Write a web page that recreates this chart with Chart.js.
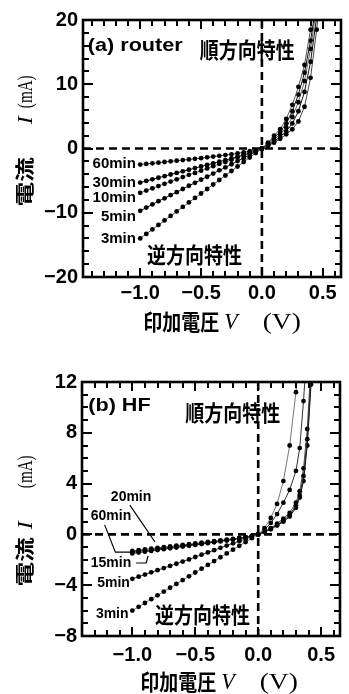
<!DOCTYPE html>
<html>
<head>
<meta charset="utf-8">
<script src="https://cdn.jsdelivr.net/npm/chart.js@4.4.0/dist/chart.umd.min.js"></script>
<style>
    html, body { margin: 0; padding: 0; background: #fff; }
    #wrap { position: relative; width: 349px; height: 694px; }
    #wrap canvas { position: absolute; left: 0; }
</style>
</head>
<body>
<div id="wrap">
    <canvas id="chart-a" width="349" height="345" style="top:0"></canvas>
    <canvas id="chart-b" width="349" height="349" style="top:345px"></canvas>
</div>
<script>
// ---- panel (a) router ----
const a_v_rev = [-1.00, -0.95, -0.90, -0.85, -0.80, -0.75, -0.70, -0.65, -0.60, -0.55, -0.50,
                 -0.45, -0.40, -0.35, -0.30, -0.25, -0.20, -0.15, -0.10, -0.05, 0.00];
const a_v_fwd = [0.05, 0.10, 0.15, 0.20, 0.25, 0.30, 0.35, 0.40, 0.45, 0.50];
const a_names = ['3min', '5min', '10min', '30min', '60min'];

const a_rev_3min  = [-14.0, -13.3, -12.6, -11.9, -11.2, -10.5, -9.8, -9.1, -8.4, -7.7, -7.0,
                     -6.3, -5.6, -4.9, -4.2, -3.5, -2.8, -2.1, -1.4, -0.7, 0.0];
const a_rev_5min  = [-9.7, -9.2, -8.7, -8.2, -7.75, -7.25, -6.8, -6.3, -5.8, -5.35, -4.85,
                     -4.4, -3.9, -3.4, -2.95, -2.45, -1.95, -1.5, -1.0, -0.5, 0.0];
const a_rev_10min = [-6.9, -6.55, -6.2, -5.85, -5.5, -5.15, -4.8, -4.45, -4.1, -3.8, -3.45,
                     -3.1, -2.75, -2.4, -2.1, -1.75, -1.4, -1.05, -0.7, -0.35, 0.0];
const a_rev_30min = [-5.3, -5.05, -4.8, -4.55, -4.3, -4.05, -3.8, -3.55, -3.3, -3.05, -2.8,
                     -2.55, -2.3, -2.05, -1.8, -1.55, -1.3, -1.0, -0.7, -0.35, 0.0];
const a_rev_60min = [-2.5, -2.4, -2.3, -2.2, -2.1, -2.0, -1.9, -1.8, -1.7, -1.6, -1.5,
                     -1.38, -1.26, -1.14, -1.02, -0.9, -0.76, -0.6, -0.42, -0.22, 0.0];

const a_fwd_3min  = [0.9, 2.0, 3.0, 4.6, 6.8, 9.6, 13.0, 18.5, 25.0, null];
const a_fwd_5min  = [0.8, 1.7, 2.6, 3.9, 5.8, 8.4, 11.8, 16.8, 23.0, null];
const a_fwd_10min = [0.6, 1.4, 2.2, 3.3, 4.9, 7.2, 10.5, 15.5, 22.0, null];
const a_fwd_30min = [0.5, 1.1, 1.8, 2.7, 3.9, 5.8, 8.8, 13.5, 20.5, null];
const a_fwd_60min = [0.4, 0.9, 1.5, 2.2, 3.0, 4.2, 6.5, 11.0, 18.5, 28.0];

const a_x_ticks = [-1.0, -0.5, 0.0, 0.5];
const a_y_ticks = [-20, -10, 0, 10, 20];

// ---- panel (b) HF ----
const b_v_rev = a_v_rev;
const b_v_fwd = [0.05, 0.10, 0.15, 0.20, 0.25, 0.30, 0.33, 0.36, 0.39, 0.42, 0.45];
const b_names = ['3min', '5min', '15min', '20min', '60min'];

const b_rev_3min  = [-6.0, -5.7, -5.4, -5.1, -4.8, -4.5, -4.2, -3.9, -3.6, -3.3, -3.0,
                     -2.7, -2.4, -2.1, -1.8, -1.5, -1.2, -0.9, -0.6, -0.3, 0.0];
const b_rev_5min  = [-3.5, -3.33, -3.16, -2.99, -2.82, -2.65, -2.48, -2.31, -2.14, -1.97, -1.78,
                     -1.6, -1.42, -1.24, -1.06, -0.88, -0.7, -0.53, -0.36, -0.18, 0.0];
const b_rev_15min = [-1.5, -1.43, -1.36, -1.3, -1.23, -1.16, -1.1, -1.03, -0.96, -0.9, -0.83,
                     -0.76, -0.69, -0.62, -0.55, -0.48, -0.41, -0.33, -0.25, -0.13, 0.0];
const b_rev_20min = [-1.3, -1.24, -1.18, -1.12, -1.06, -1.0, -0.95, -0.89, -0.83, -0.77, -0.71,
                     -0.65, -0.59, -0.53, -0.47, -0.41, -0.35, -0.28, -0.21, -0.11, 0.0];
const b_rev_60min = [-1.4, -1.33, -1.27, -1.21, -1.14, -1.08, -1.02, -0.96, -0.9, -0.84, -0.77,
                     -0.71, -0.64, -0.58, -0.51, -0.45, -0.38, -0.3, -0.23, -0.12, 0.0];

const b_fwd_3min  = [0.5, 1.3, 2.4, 4.2, 7.0, 11.2, 14.5, null, null, null, null];
const b_fwd_5min  = [0.35, 0.9, 1.6, 2.5, 3.5, 5.0, 6.8, 10.5, 15.0, null, null];
const b_fwd_15min = [0.2, 0.45, 0.75, 1.1, 1.5, 2.3, 3.1, 4.6, 7.5, 12.5, null];
const b_fwd_20min = [0.25, 0.5, 0.85, 1.25, 1.7, 2.5, 3.4, 5.2, 8.3, 13.5, null];
const b_fwd_60min = [0.18, 0.4, 0.7, 1.0, 1.4, 2.1, 2.9, 4.2, 7.0, 11.8, 19.0];

const b_x_ticks = [-1.0, -0.5, 0.0, 0.5];
const b_y_ticks = [-8, -4, 0, 4, 8, 12];

// ---- styles ----
const SANS = '"Liberation Sans", Arial, sans-serif';
const SERIF = '"Liberation Serif", "Times New Roman", serif';
const JP = '"Noto Sans CJK JP", sans-serif';

function minus(s) {
    return String(s).replace('-', '\u2212');
}

function buildSeries(vRev, vFwd, rev, fwd) {
    const v = vRev.concat(vFwd);
    const cur = rev.concat(fwd);
    return v.map((x, k) => ({ x: x, y: cur[k] }));
}

// draw a row of text pieces in different fonts, centred on (cx, cy)
function drawRuns(ctx, runs, cx, cy, angle) {
    ctx.save();
    ctx.translate(cx, cy);
    ctx.rotate(angle);
    let total = 0;
    runs.forEach(r => {
        ctx.font = r.font;
        r.w = ctx.measureText(r.text).width * (r.sa || 1);
        total += r.w + (r.gap || 0);
    });
    let pos = -total / 2;
    ctx.textAlign = 'left';
    ctx.textBaseline = 'alphabetic';
    ctx.fillStyle = '#000';
    runs.forEach(r => {
        ctx.save();
        ctx.translate(pos, 0);
        ctx.scale(r.sa || 1, r.sc || 1);
        ctx.font = r.font;
        ctx.fillText(r.text, 0, r.base || 7);
        ctx.restore();
        pos += r.w + (r.gap || 0);
    });
    ctx.restore();
}

function makeFramePlugin(cfg) {
    return {
        id: 'frame',
        beforeDatasetsDraw(chart) {
            const { ctx, chartArea: a } = chart;
            const x = chart.scales.x, y = chart.scales.y;
            const x0 = x.getPixelForValue(0), y0 = y.getPixelForValue(0);
            ctx.save();
            ctx.strokeStyle = '#000';
            ctx.lineWidth = 2.6;
            ctx.setLineDash([8, 5]);
            ctx.beginPath();
            ctx.moveTo(a.left, y0); ctx.lineTo(a.right, y0);
            ctx.moveTo(x0, a.top); ctx.lineTo(x0, a.bottom);
            ctx.stroke();
            ctx.restore();
        },
        afterDraw(chart) {
            const { ctx, chartArea: a } = chart;
            const x = chart.scales.x, y = chart.scales.y;
            ctx.save();
            ctx.setLineDash([]);
            // frame
            ctx.strokeStyle = '#000';
            ctx.lineWidth = 2.6;
            ctx.strokeRect(a.left, a.top, a.right - a.left, a.bottom - a.top);

            // inward ticks on all four sides
            ctx.fillStyle = '#000';
            for (let k = Math.ceil(cfg.xMin / cfg.xMinor - 1e-6); k * cfg.xMinor <= cfg.xMax + 1e-6; k++) {
                const v = k * cfg.xMinor;
                const major = Math.abs(v / cfg.xMajor - Math.round(v / cfg.xMajor)) < 1e-6;
                const len = major ? 9 : 6;
                const px = Math.round(x.getPixelForValue(v)) - 1;
                ctx.fillRect(px, a.bottom - len, 2, len);
                ctx.fillRect(px, a.top, 2, len);
            }
            for (let k = Math.ceil(cfg.yMin / cfg.yMinor - 1e-6); k * cfg.yMinor <= cfg.yMax + 1e-6; k++) {
                const v = k * cfg.yMinor;
                const major = Math.abs(v / cfg.yMajor - Math.round(v / cfg.yMajor)) < 1e-6;
                const len = major ? 10 : 6;
                const py = Math.round(y.getPixelForValue(v)) - 1;
                ctx.fillRect(a.left, py, len, 2);
                ctx.fillRect(a.right - len, py, len, 2);
            }

            // text inside the plot
            ctx.textBaseline = 'middle';
            cfg.texts.forEach(t => {
                ctx.save();
                ctx.translate(x.getPixelForValue(t.v), y.getPixelForValue(t.i));
                ctx.scale(t.sx || 1, t.sy || 1);
                ctx.font = t.font;
                ctx.textAlign = t.align || 'left';
                ctx.fillText(t.text, 0, 0);
                ctx.restore();
            });
            // leader lines for the crowded labels
            ctx.lineWidth = 1.2;
            cfg.leaders.forEach(path => {
                ctx.beginPath();
                path.forEach((p, k) => {
                    const px = x.getPixelForValue(p[0]), py = y.getPixelForValue(p[1]);
                    if (k === 0) ctx.moveTo(px, py); else ctx.lineTo(px, py);
                });
                ctx.stroke();
            });
            ctx.restore();

            // axis titles
            drawRuns(ctx, cfg.xTitle, cfg.xTitlePos[0], cfg.xTitlePos[1], 0);
            drawRuns(ctx, cfg.yTitle, cfg.yTitlePos[0], cfg.yTitlePos[1], -Math.PI / 2);
        }
    };
}

function makeChart(canvasId, cfg) {
    const datasets = cfg.series.map((s, k) => ({
        label: cfg.names[k],
        data: s,
        borderColor: cfg.lineColors[k],
        borderWidth: 1,
        pointRadius: 2.4,
        pointBackgroundColor: '#000',
        pointBorderWidth: 0,
        tension: 0,
        spanGaps: false
    }));

    const ctx = document.getElementById(canvasId).getContext('2d');
    return new Chart(ctx, {
        type: 'line',
        data: { datasets: datasets },
        options: {
            responsive: false,
            animation: false,
            devicePixelRatio: 1,
            layout: { padding: { top: cfg.padTop, right: cfg.padRight, left: 0, bottom: 0 } },
            plugins: { legend: { display: false }, tooltip: { enabled: false } },
            scales: {
                x: {
                    type: 'linear',
                    min: cfg.xMin,
                    max: cfg.xMax,
                    grid: { display: false, drawTicks: false },
                    border: { display: false },
                    afterBuildTicks: s => { s.ticks = cfg.xTicks.map(v => ({ value: v })); },
                    afterFit: s => { s.height = cfg.xAxisHeight; },
                    ticks: {
                        autoSkip: false,
                        maxRotation: 0,
                        padding: cfg.xLabelPad,
                        color: '#000',
                        font: { family: SANS, size: 20, weight: 'bold' },
                        callback: v => minus(Number(v).toFixed(1))
                    }
                },
                y: {
                    type: 'linear',
                    min: cfg.yMin,
                    max: cfg.yMax,
                    grid: { display: false, drawTicks: false },
                    border: { display: false },
                    afterBuildTicks: s => { s.ticks = cfg.yTicks.map(v => ({ value: v })); },
                    afterFit: s => { s.width = cfg.yAxisWidth; },
                    ticks: {
                        autoSkip: false,
                        padding: 5,
                        color: '#000',
                        font: { family: SANS, size: 20, weight: 'bold' },
                        callback: v => minus(v)
                    }
                }
            }
        },
        plugins: [makeFramePlugin(cfg)]
    });
}

const JP_FONT = 'bold 19px ' + JP;
const LBL_A = 'bold 15px ' + SANS;
const LBL_B = 'bold 14px ' + SANS;

const xTitleRuns = [
    { text: '印加電圧', font: 'bold 19px ' + JP, sc: 1.15, gap: 5 },
    { text: 'V', font: 'italic 22px ' + SERIF, sc: 1.05, gap: 25 },
    { text: '(V)', font: '22px ' + SERIF, sa: 1.25, sc: 1.05 }
];
const yTitleRunsA = [
    { text: '電流', font: 'bold 19px ' + JP, sa: 1.3, gap: 33 },
    { text: 'I', font: 'italic 22px ' + SERIF, sa: 1.1, gap: 8 },
    { text: '(mA)', font: '21px ' + SERIF, sa: 0.72 }
];
const yTitleRunsB = [
    { text: '電流', font: 'bold 19px ' + JP, sa: 1.3, gap: 8 },
    { text: 'I', font: 'italic 22px ' + SERIF, sa: 1.1, gap: 33 },
    { text: '(mA)', font: '21px ' + SERIF, sa: 0.72 }
];

makeChart('chart-a', {
    names: a_names,
    series: [
        buildSeries(a_v_rev, a_v_fwd, a_rev_3min, a_fwd_3min),
        buildSeries(a_v_rev, a_v_fwd, a_rev_5min, a_fwd_5min),
        buildSeries(a_v_rev, a_v_fwd, a_rev_10min, a_fwd_10min),
        buildSeries(a_v_rev, a_v_fwd, a_rev_30min, a_fwd_30min),
        buildSeries(a_v_rev, a_v_fwd, a_rev_60min, a_fwd_60min)
    ],
    lineColors: ['#555', '#111', '#666', '#111', '#444'],
    xMin: -1.47, xMax: 0.65, yMin: -20, yMax: 20,
    xTicks: a_x_ticks, yTicks: a_y_ticks,
    xMinor: 0.1, xMajor: 0.5, yMinor: 2, yMajor: 10,
    padTop: 20, padRight: 8, yAxisWidth: 83, xAxisHeight: 68, xLabelPad: 4,
    texts: [
        { text: '(a) router', font: 'bold 18px ' + SANS, v: -1.43, i: 15.9, sx: 1.2 },
        { text: '順方向特性', font: JP_FONT, v: -0.51, i: 15.3, sy: 1.15 },
        { text: '逆方向特性', font: JP_FONT, v: -0.945, i: -16.5, sy: 1.15 },
        { text: '60min', font: LBL_A, v: -1.035, i: -2.4, align: 'right' },
        { text: '30min', font: LBL_A, v: -1.035, i: -5.3, align: 'right' },
        { text: '10min', font: LBL_A, v: -1.035, i: -7.7, align: 'right' },
        { text: '5min', font: LBL_A, v: -1.035, i: -10.6, align: 'right' },
        { text: '3min', font: LBL_A, v: -1.035, i: -14.1, align: 'right' }
    ],
    leaders: [],
    xTitle: xTitleRuns, xTitlePos: [222, 322],
    yTitle: yTitleRunsA, yTitlePos: [25, 141]
});

makeChart('chart-b', {
    names: b_names,
    series: [
        buildSeries(b_v_rev, b_v_fwd, b_rev_3min, b_fwd_3min),
        buildSeries(b_v_rev, b_v_fwd, b_rev_5min, b_fwd_5min),
        buildSeries(b_v_rev, b_v_fwd, b_rev_15min, b_fwd_15min),
        buildSeries(b_v_rev, b_v_fwd, b_rev_20min, b_fwd_20min),
        buildSeries(b_v_rev, b_v_fwd, b_rev_60min, b_fwd_60min)
    ],
    lineColors: ['#777', '#333', '#222', '#555', '#111'],
    xMin: -1.40, xMax: 0.65, yMin: -8, yMax: 12,
    xTicks: b_x_ticks, yTicks: b_y_ticks,
    xMinor: 0.1, xMajor: 0.5, yMinor: 1, yMajor: 4,
    padTop: 37, padRight: 9, yAxisWidth: 82, xAxisHeight: 58, xLabelPad: 7,
    texts: [
        { text: '(b) HF', font: 'bold 18px ' + SANS, v: -1.35, i: 10.1, sx: 1.2 },
        { text: '順方向特性', font: JP_FONT, v: -0.58, i: 9.6, sy: 1.15 },
        { text: '逆方向特性', font: JP_FONT, v: -0.82, i: -6.35, sy: 1.15 },
        { text: '20min', font: LBL_B, v: -1.01, i: 2.9, align: 'center' },
        { text: '60min', font: LBL_B, v: -1.17, i: 1.4, align: 'center' },
        { text: '15min', font: LBL_B, v: -1.17, i: -2.25, align: 'center' },
        { text: '5min', font: LBL_B, v: -1.02, i: -3.8, align: 'right' },
        { text: '3min', font: LBL_B, v: -1.03, i: -6.25, align: 'right' }
    ],
    leaders: [
        [[-1.02, 2.3], [-0.82, -0.6]],
        [[-1.22, 0.75], [-1.135, -1.4], [-0.99, -1.4]],
        [[-0.97, -2.25], [-0.89, -2.25], [-0.875, -1.7]]
    ],
    xTitle: xTitleRuns, xTitlePos: [219, 337],
    yTitle: yTitleRunsB, yTitlePos: [25, 176]
});
</script>
</body>
</html>
